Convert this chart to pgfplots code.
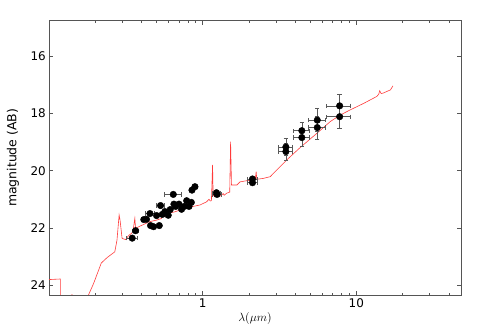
\documentclass[border=0pt]{standalone}
\usepackage{fontspec}
\setmainfont{DejaVu Sans}
\usepackage{pgfplots}
\pgfplotsset{compat=1.18}
\usepackage{pgfplotstable}
\definecolor{axgray}{HTML}{555555}
\definecolor{sedred}{HTML}{FF3B3B}
\pgfplotstableread{
x y
0.1 23.81
0.1186 23.79
0.1188 25.5
0.135 25.5
0.141 24.32
0.147 25.5
0.165 25.2
0.179 24.40
0.195 23.95
0.219 23.23
0.239 23.04
0.268 22.84
0.277 22.43
0.286 21.55
0.290 21.73
0.299 22.37
0.315 22.41
0.331 22.26
0.344 22.20
0.352 22.12
0.362 21.67
0.366 22.02
0.384 21.96
0.425 21.85
0.446 21.79
0.501 21.73
0.540 21.67
0.550 21.49
0.556 21.61
0.600 21.55
0.620 21.47
0.660 21.44
0.730 21.35
0.780 21.32
0.800 21.26
0.848 21.26
0.960 21.20
1.06 21.09
1.10 21.00
1.12 21.06
1.14 21.05
1.16 19.80
1.17 20.85
1.20 20.91
1.30 20.89
1.36 20.80
1.38 20.86
1.43 20.79
1.50 20.75
1.52 18.98
1.54 20.50
1.67 20.50
1.75 20.39
2.04 20.33
2.20 20.30
2.23 20.03
2.25 20.30
2.48 20.27
2.75 20.21
3.00 20.00
3.53 19.62
4.31 19.19
5.54 18.69
6.77 18.28
7.87 18.05
9.14 17.87
11.2 17.64
13.6 17.40
14.0 17.32
14.2 17.20
14.5 17.30
15.0 17.28
16.7 17.17
17.3 17.03
}\sedtable
\pgfplotstableread{
x y ex ey
0.348 22.36 0.03 0.05
0.366 22.10 0.015 0.05
0.414 21.71 0.015 0.05
0.431 21.70 0.015 0.05
0.454 21.50 0.03 0.05
0.458 21.92 0.01 0.05
0.479 21.96 0.01 0.05
0.501 21.57 0.01 0.05
0.522 21.92 0.01 0.05
0.532 21.22 0.03 0.05
0.546 21.53 0.01 0.05
0.568 21.43 0.01 0.05
0.597 21.56 0.01 0.05
0.615 21.36 0.01 0.05
0.644 20.83 0.08 0.05
0.650 21.17 0.01 0.05
0.667 21.25 0.02 0.05
0.701 21.17 0.01 0.05
0.729 21.35 0.01 0.05
0.759 21.25 0.01 0.05
0.787 21.05 0.01 0.05
0.815 21.25 0.01 0.05
0.844 21.11 0.02 0.05
0.852 20.68 0.03 0.05
0.891 20.56 0.03 0.05
1.23 20.77 0.08 0.06
1.24 20.83 0.08 0.06
2.11 20.29 0.15 0.06
2.11 20.42 0.15 0.06
3.48 19.17 0.37 0.30
3.48 19.33 0.37 0.30
4.42 18.60 0.55 0.30
4.42 18.84 0.55 0.30
5.57 18.23 0.70 0.40
5.57 18.49 0.70 0.40
7.79 17.73 1.40 0.42
7.79 18.11 1.40 0.42
}\phottable
\begin{document}
\begin{tikzpicture}
\begin{axis}[
  scale only axis,
  width=412bp, height=274.3bp,
  xmode=log,
  xmin=0.1, xmax=48,
  ymin=14.75, ymax=24.35,
  y dir=reverse,
  axis line style={axgray, line width=0.8pt},
  every tick/.style={axgray, line width=0.5pt},
  major tick length=4bp,
  minor tick length=2bp,
  tick align=inside,
  tick pos=both,
  xtick={1,10},
  xticklabels={1,10},
  minor xtick={0.2,0.3,0.4,0.5,0.6,0.7,0.8,0.9,2,3,4,5,6,7,8,9,20,30,40},
  ytick={16,18,20,22,24},
  /pgf/number format/assume math mode=true,
  ticklabel style={font=\fontsize{12}{14}\selectfont, inner sep=0pt},
  yticklabel style={anchor=east, xshift=-3bp},
  xticklabel style={anchor=north, yshift=-3.5bp},
  xlabel={$\lambda(\mu m)$},
  ylabel={magnitude (AB)},
  label style={font=\fontsize{12.5}{14}\selectfont},
  xlabel style={at={(axis description cs:0.5,0)}, anchor=base, yshift=-26.5bp, inner sep=0pt},
  ylabel style={at={(axis description cs:-0.0874,0.5)}, anchor=center, inner sep=0pt},
]
\addplot[sedred, line width=0.6pt, mark=none] table[x=x, y=y] {\sedtable};
\addplot[only marks, mark=*, mark size=3.3bp, mark options={fill=black, draw=black},
  error bars/.cd,
    x dir=both, x explicit,
    y dir=both, y explicit,
    error bar style={black!65, line width=0.6pt},
    error mark options={rotate=90, mark size=2.2bp, black!65, line width=0.6pt}]
  table[x=x, y=y, x error=ex, y error=ey] {\phottable};
\end{axis}
\path ([shift={(-49bp,-33bp)}]current axis.south west) rectangle ([shift={(30bp,20.7bp)}]current axis.north east);
\end{tikzpicture}
\end{document}
